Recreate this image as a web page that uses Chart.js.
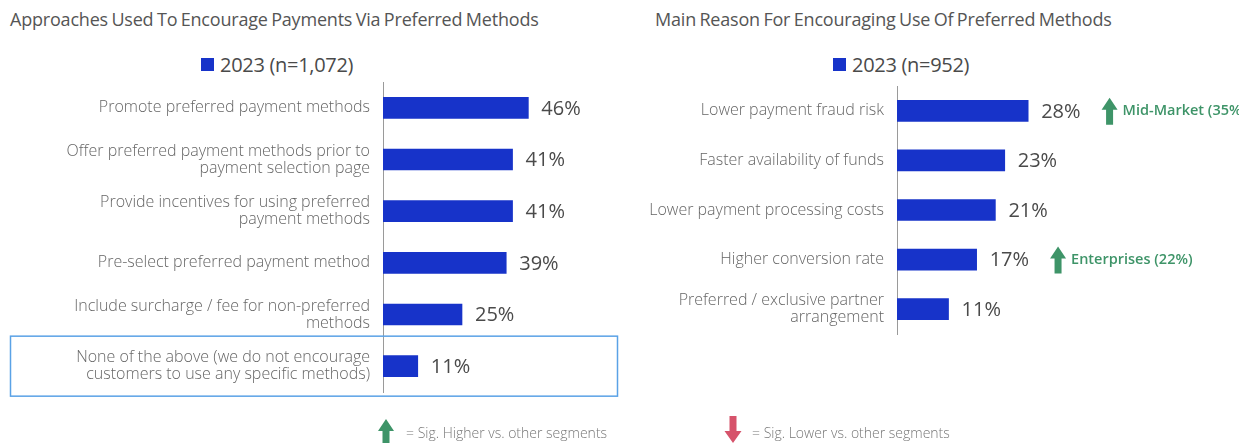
<!DOCTYPE html>
<html><head><meta charset="utf-8">
<script src="https://cdn.jsdelivr.net/npm/chart.js@4"></script>
<style>
body{margin:0;background:#fff;}
#wrap{position:relative;width:1239px;height:443px;overflow:hidden;background:#fff;font-family:"Open Sans",sans-serif;}
.title{position:absolute;top:7px;font-size:18px;color:#555;letter-spacing:-0.2px;word-spacing:-1px;white-space:nowrap;}
.legend{position:absolute;top:51px;font-size:20px;color:#4a4a4a;white-space:nowrap;display:flex;align-items:center;letter-spacing:-0.3px;}
.legend .sq{display:inline-block;width:13px;height:13px;background:#1733c9;margin-right:6px;}
.foot{position:absolute;top:423px;font-size:14px;color:#777;font-weight:300;white-space:nowrap;}
canvas{position:absolute;top:0;}
</style></head>
<body><div id="wrap">
<div class="title" style="left:10px">Approaches Used To Encourage Payments Via Preferred Methods</div>
<div class="title" style="left:655px">Main Reason For Encouraging Use Of Preferred Methods</div>
<div class="legend" style="left:201px"><span class="sq"></span><span id="lg1"></span></div>
<div class="legend" style="left:833px"><span class="sq"></span><span id="lg2"></span></div>
<canvas id="c1" width="620" height="443" style="left:0"></canvas>
<canvas id="c2" width="619" height="443" style="left:620px"></canvas>
<canvas id="cf" width="1239" height="443" style="left:0;pointer-events:none"></canvas>
<div class="foot" style="left:406px">= Sig. Higher vs. other segments</div>
<div class="foot" style="left:752px">= Sig. Lower vs. other segments</div>
</div>
<script>
// ---- data ----
const leftSeriesName = "2023 (n=1,072)";
const leftCategories = [
  "Promote preferred payment methods",
  ["Offer preferred payment methods prior to", "payment selection page"],
  ["Provide incentives for using preferred", "payment methods"],
  "Pre-select preferred payment method",
  ["Include surcharge / fee for non-preferred", "methods"],
  ["None of the above (we do not encourage", "customers to use any specific methods)"]
];
const leftValues = [46, 41, 41, 39, 25, 11];
const leftHighlightIndex = 5;

const rightSeriesName = "2023 (n=952)";
const rightCategories = [
  "Lower payment fraud risk",
  "Faster availability of funds",
  "Lower payment processing costs",
  "Higher conversion rate",
  ["Preferred / exclusive partner", "arrangement"]
];
const rightValues = [28, 23, 21, 17, 11];
const rightSigHigher = ["Mid-Market (35%)", null, null, "Enterprises (22%)", null];

// ---- styles ----
const BAR = "#1733c9";
const GREEN = "#3e9468";
const RED = "#d6536b";
const LABEL_FONT = {family: "'Open Sans', sans-serif", size: 16, weight: 300, lineHeight: 1.07};

document.getElementById("lg1").textContent = leftSeriesName;
document.getElementById("lg2").textContent = rightSeriesName;

function upArrow(ctx, cx, cy, color) {
  ctx.save();
  ctx.fillStyle = color;
  ctx.beginPath();
  ctx.moveTo(cx, cy - 13);
  ctx.lineTo(cx + 8, cy - 1);
  ctx.lineTo(cx + 3.5, cy - 1);
  ctx.lineTo(cx + 3.5, cy + 14);
  ctx.lineTo(cx - 3.5, cy + 14);
  ctx.lineTo(cx - 3.5, cy - 1);
  ctx.lineTo(cx - 8, cy - 1);
  ctx.closePath();
  ctx.fill();
  ctx.restore();
}
function downArrow(ctx, cx, cy, color) {
  ctx.save();
  ctx.fillStyle = color;
  ctx.beginPath();
  ctx.moveTo(cx, cy + 13);
  ctx.lineTo(cx + 8.5, cy + 1);
  ctx.lineTo(cx + 3.5, cy + 1);
  ctx.lineTo(cx + 3.5, cy - 14);
  ctx.lineTo(cx - 3.5, cy - 14);
  ctx.lineTo(cx - 3.5, cy + 1);
  ctx.lineTo(cx - 8.5, cy + 1);
  ctx.closePath();
  ctx.fill();
  ctx.restore();
}

const valueLabels = {
  id: "valueLabels",
  afterDatasetsDraw(chart, args, opts) {
    const ctx = chart.ctx;
    const meta = chart.getDatasetMeta(0);
    const data = chart.data.datasets[0].data;
    ctx.save();
    ctx.font = "500 20px 'Open Sans', sans-serif";
    ctx.fillStyle = "#4a4a4a";
    ctx.textBaseline = "middle";
    meta.data.forEach((bar, i) => {
      const txt = data[i] + "%";
      const x = bar.x + 13;
      ctx.fillText(txt, x, bar.y + 1);
      const sig = opts.sig && opts.sig[i];
      if (sig) {
        const w = ctx.measureText(txt).width;
        const ax = x + w + 29;
        upArrow(ctx, ax, bar.y, GREEN);
        ctx.save();
        ctx.font = "600 14.5px 'Open Sans', sans-serif";
        ctx.fillStyle = GREEN;
        ctx.fillText(sig, ax + 13, bar.y);
        ctx.restore();
      }
    });
    if (opts.highlight != null) {
      const y = chart.scales.y.getPixelForValue(opts.highlight);
      ctx.strokeStyle = "#5aa2e6";
      ctx.lineWidth = 1.5;
      ctx.strokeRect(10.5, y - 30, 607, 60);
    }
    ctx.restore();
  }
};

function makeChart(id, labels, values, axisWidth, xmax, padTop, padBottom, pluginOpts) {
  return new Chart(document.getElementById(id), {
    type: "bar",
    data: {labels: labels, datasets: [{data: values, backgroundColor: BAR, barThickness: 21}]},
    options: {
      indexAxis: "y",
      responsive: false,
      animation: false,
      layout: {padding: {top: padTop, bottom: padBottom, left: 0, right: 0}},
      plugins: {legend: {display: false}, tooltip: {enabled: false}, valueLabels: pluginOpts},
      scales: {
        x: {display: false, min: 0, max: xmax},
        y: {
          afterFit(s) { s.width = axisWidth; },
          grid: {display: true, drawOnChartArea: false, drawTicks: false},
          border: {display: true, color: "#9a9a9a", width: 1},
          ticks: {font: LABEL_FONT, color: "#666", padding: 13, autoSkip: false}
        }
      }
    },
    plugins: [valueLabels]
  });
}

makeChart("c1", leftCategories, leftValues, 383, 75, 82, 51, {highlight: leftHighlightIndex});
makeChart("c2", rightCategories, rightValues, 277, 73, 86, 109, {sig: rightSigHigher});

// footer key arrows
const fctx = document.getElementById("cf").getContext("2d");
upArrow(fctx, 386, 432, GREEN);
downArrow(fctx, 733, 430, RED);
</script>
</body></html>
